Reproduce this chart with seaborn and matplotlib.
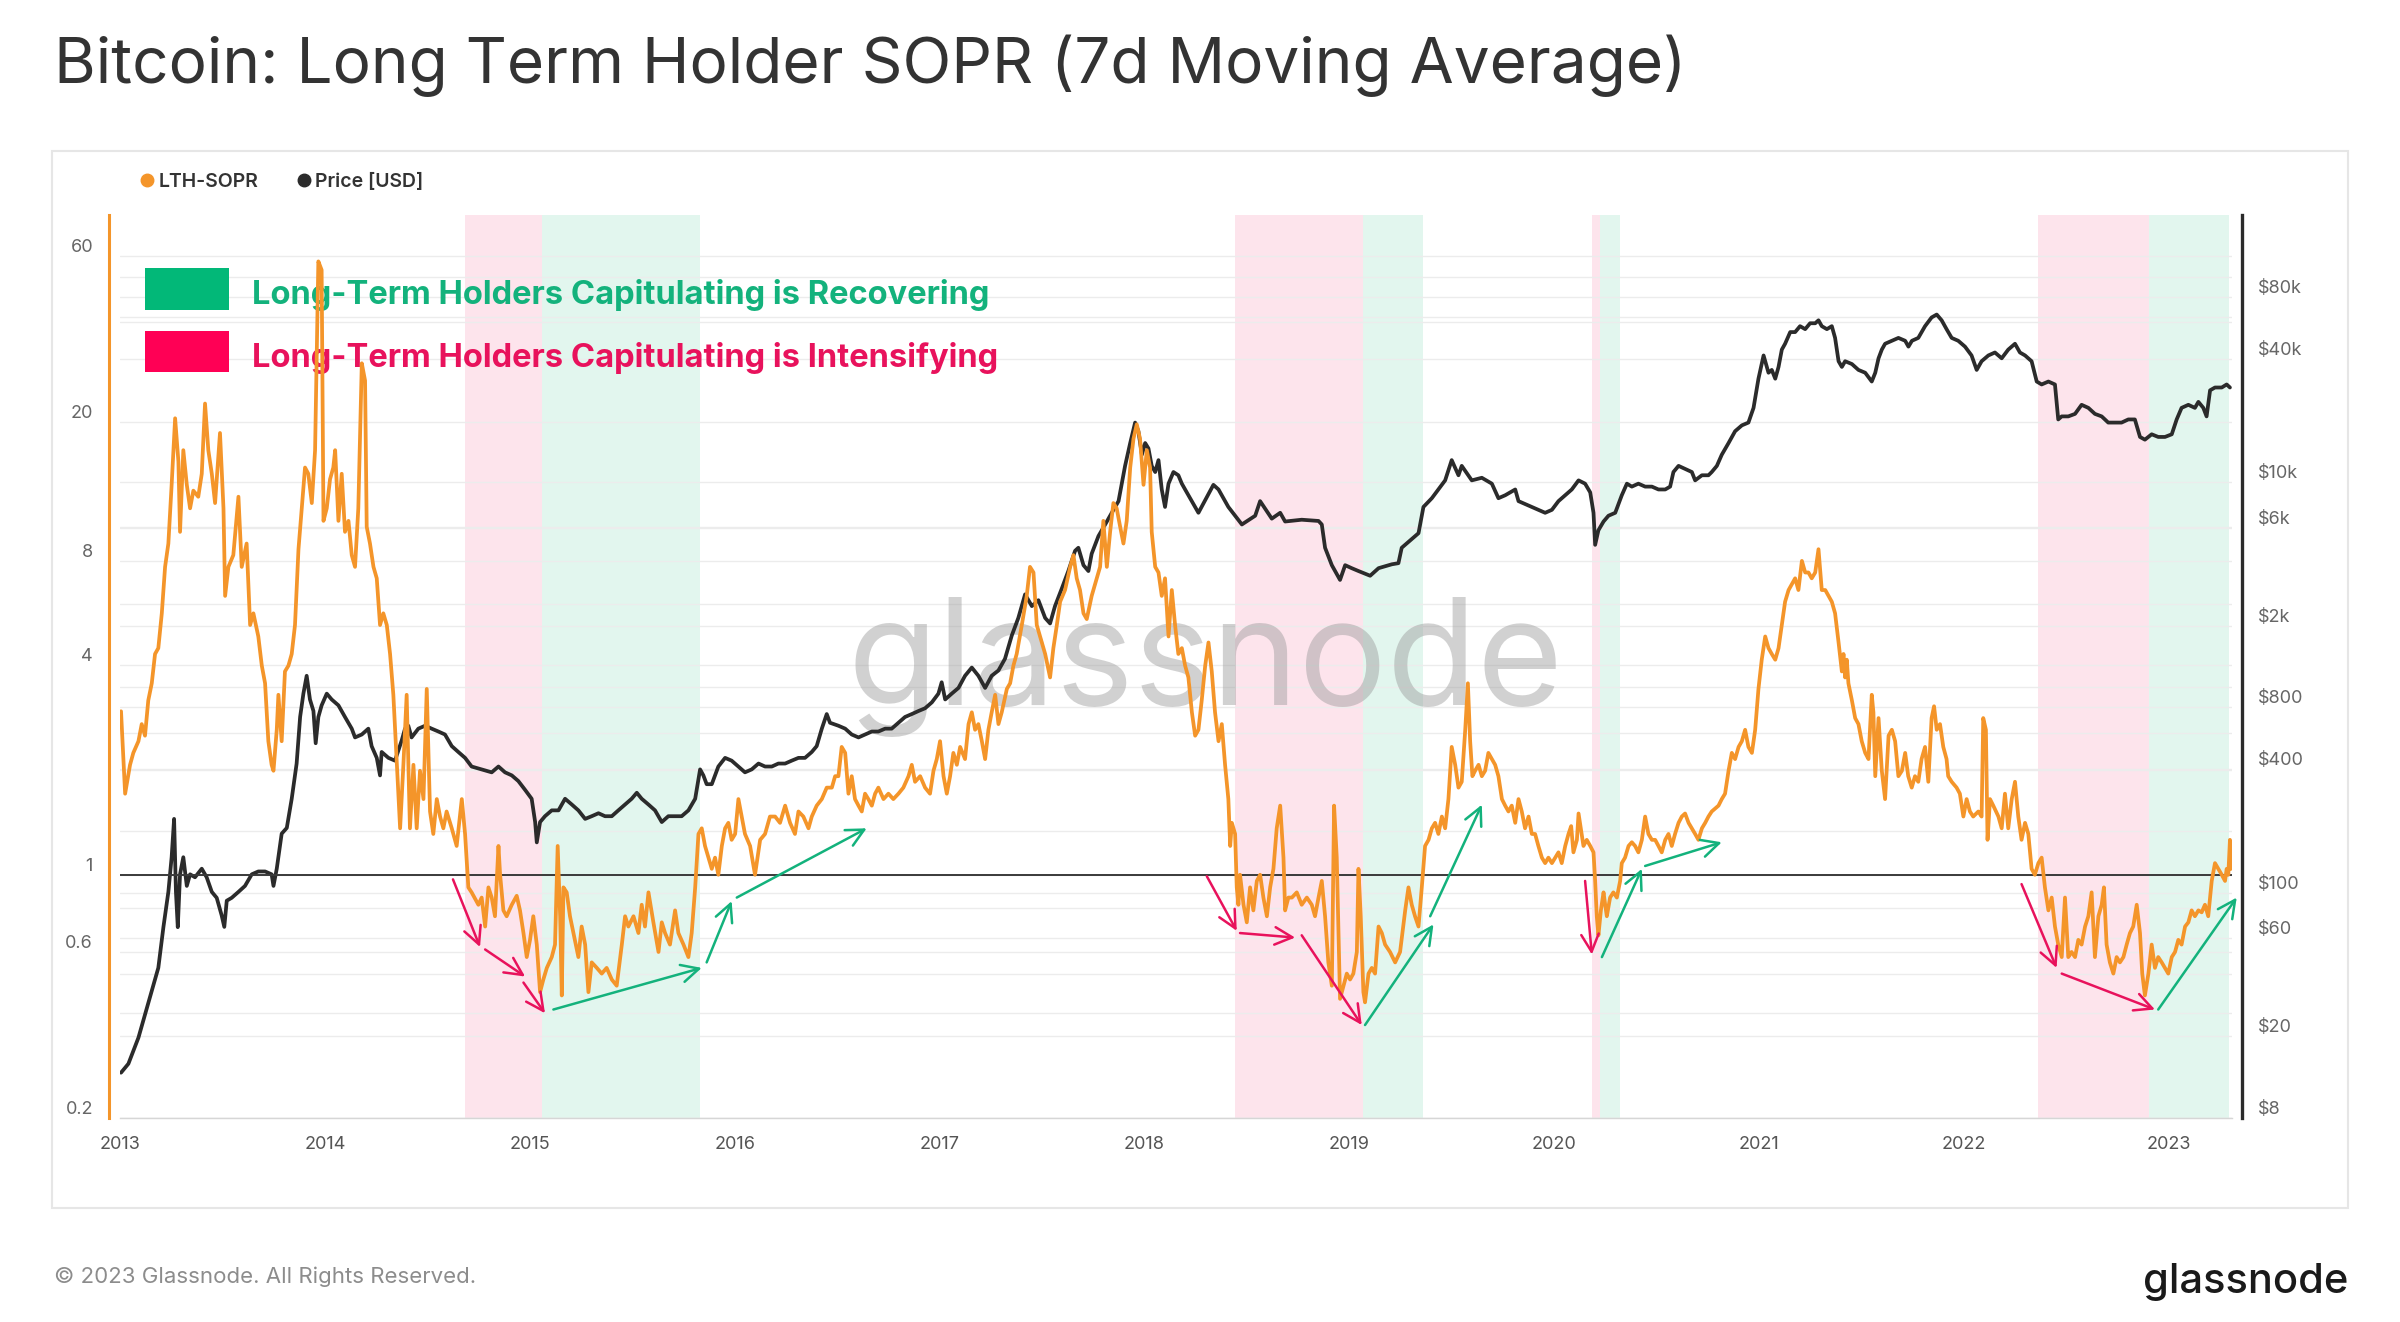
import numpy as np
import pandas as pd
import matplotlib
matplotlib.use("Agg")
import matplotlib.pyplot as plt
import matplotlib.dates as mdates
import matplotlib.transforms as mtrans
import seaborn as sns
from matplotlib.lines import Line2D
from matplotlib.patches import Rectangle

# ---------------- data (decimal year, value) ----------------
SOPR_2013_2014 = [
    (2013.005, 2.95), (2013.025, 1.71), (2013.049, 2.07), (2013.065, 2.24), (2013.090, 2.42),
    (2013.106, 2.71), (2013.122, 2.51), (2013.138, 3.17), (2013.155, 3.55), (2013.171, 4.31),
    (2013.187, 4.48), (2013.204, 5.64), (2013.220, 7.67), (2013.236, 8.95), (2013.252, 13.2),
    (2013.269, 20.5), (2013.285, 15.4), (2013.293, 9.67), (2013.309, 16.6), (2013.326, 13.2),
    (2013.342, 11.3), (2013.358, 12.7), (2013.382, 12.2), (2013.399, 14.2), (2013.415, 22.6),
    (2013.431, 16.6), (2013.448, 14.2), (2013.464, 11.7), (2013.488, 18.6), (2013.505, 11.3),
    (2013.513, 6.33), (2013.529, 7.67), (2013.553, 8.29), (2013.578, 12.2), (2013.594, 7.67),
    (2013.618, 8.95), (2013.635, 5.22), (2013.651, 5.64), (2013.675, 4.84), (2013.692, 3.99),
    (2013.708, 3.55), (2013.724, 2.42), (2013.740, 2.07), (2013.749, 1.99), (2013.765, 2.61),
    (2013.773, 3.29), (2013.789, 2.42), (2013.805, 3.84), (2013.822, 3.99), (2013.838, 4.31),
    (2013.854, 5.22), (2013.871, 8.62), (2013.887, 11.3), (2013.903, 14.8), (2013.919, 14.2),
    (2013.936, 11.7), (2013.952, 16.6), (2013.968, 57.9), (2013.984, 54.7), (2013.993, 10.4),
    (2014.009, 11.3), (2014.025, 13.7), (2014.041, 14.8), (2014.050, 16.6), (2014.066, 10.4),
    (2014.082, 14.2), (2014.098, 9.67), (2014.115, 10.4), (2014.131, 8.29), (2014.147, 7.67),
    (2014.163, 11.3), (2014.180, 29.5), (2014.196, 26.3), (2014.204, 10.0), (2014.220, 8.95),
    (2014.237, 7.67), (2014.253, 7.11), (2014.269, 5.22), (2014.285, 5.64), (2014.302, 5.22),
    (2014.318, 4.31), (2014.334, 3.29), (2014.350, 2.15), (2014.367, 1.36), (2014.383, 2.07),
    (2014.399, 3.29), (2014.415, 1.36), (2014.432, 2.07), (2014.448, 1.36), (2014.464, 1.99),
    (2014.481, 1.65), (2014.497, 3.42), (2014.513, 1.52), (2014.529, 1.31), (2014.546, 1.65),
    (2014.562, 1.47), (2014.578, 1.36), (2014.594, 1.52), (2014.619, 1.36), (2014.643, 1.21),
    (2014.668, 1.65), (2014.684, 1.31), (2014.700, 0.92), (2014.716, 0.89),
]
SOPR_2014_2016 = [
    (2014.749, 0.82), (2014.765, 0.86), (2014.782, 0.71), (2014.798, 0.92), (2014.814, 0.86),
    (2014.830, 0.76), (2014.847, 1.21), (2014.855, 1.00), (2014.871, 0.79), (2014.887, 0.76),
    (2014.912, 0.82), (2014.936, 0.87), (2014.952, 0.79), (2014.969, 0.68), (2014.985, 0.58),
    (2015.001, 0.65), (2015.017, 0.76), (2015.034, 0.63), (2015.050, 0.46), (2015.066, 0.50),
    (2015.083, 0.54), (2015.107, 0.58), (2015.123, 0.63), (2015.136, 1.21), (2015.148, 0.76),
    (2015.156, 0.45), (2015.164, 0.92), (2015.180, 0.89), (2015.196, 0.76), (2015.213, 0.68),
    (2015.237, 0.58), (2015.253, 0.71), (2015.270, 0.63), (2015.286, 0.46), (2015.302, 0.56),
    (2015.327, 0.54), (2015.351, 0.52), (2015.375, 0.54), (2015.400, 0.50), (2015.424, 0.48),
    (2015.449, 0.63), (2015.465, 0.76), (2015.481, 0.71), (2015.506, 0.76), (2015.530, 0.68),
    (2015.546, 0.82), (2015.562, 0.71), (2015.579, 0.89), (2015.603, 0.73), (2015.628, 0.60),
    (2015.644, 0.73), (2015.660, 0.68), (2015.684, 0.63), (2015.709, 0.79), (2015.725, 0.68),
    (2015.750, 0.63), (2015.774, 0.58), (2015.790, 0.68), (2015.807, 0.92), (2015.823, 1.31),
    (2015.839, 1.36), (2015.855, 1.21), (2015.872, 1.12), (2015.888, 1.04), (2015.904, 1.12),
    (2015.920, 1.00), (2015.937, 1.21), (2015.953, 1.36), (2015.969, 1.41), (2015.985, 1.26),
    (2016.002, 1.31), (2016.018, 1.65), (2016.034, 1.47), (2016.050, 1.31), (2016.075, 1.21),
    (2016.099, 1.00), (2016.124, 1.26), (2016.148, 1.31), (2016.172, 1.47), (2016.197, 1.47),
    (2016.221, 1.41), (2016.246, 1.58), (2016.270, 1.41), (2016.294, 1.31), (2016.311, 1.52),
    (2016.335, 1.47), (2016.360, 1.36), (2016.376, 1.47), (2016.400, 1.58), (2016.425, 1.65),
    (2016.449, 1.78),
]
SOPR_2016_2018 = [
    (2016.474, 1.78), (2016.490, 1.92), (2016.506, 1.92), (2016.522, 2.33), (2016.539, 2.24),
    (2016.555, 1.71), (2016.571, 1.92), (2016.587, 1.65), (2016.604, 1.58), (2016.620, 1.52),
    (2016.636, 1.71), (2016.652, 1.65), (2016.669, 1.58), (2016.685, 1.71), (2016.701, 1.78),
    (2016.726, 1.65), (2016.750, 1.71), (2016.774, 1.65), (2016.799, 1.71), (2016.823, 1.78),
    (2016.848, 1.92), (2016.864, 2.07), (2016.880, 1.85), (2016.905, 1.92), (2016.929, 1.78),
    (2016.953, 1.71), (2016.970, 1.99), (2016.986, 2.15), (2017.002, 2.42), (2017.019, 1.92),
    (2017.035, 1.71), (2017.051, 1.92), (2017.067, 2.24), (2017.084, 2.07), (2017.100, 2.33),
    (2017.124, 2.15), (2017.141, 2.71), (2017.157, 2.93), (2017.173, 2.61), (2017.189, 2.71),
    (2017.206, 2.42), (2017.222, 2.15), (2017.238, 2.61), (2017.254, 2.93), (2017.271, 3.29),
    (2017.287, 2.71), (2017.303, 2.93), (2017.328, 3.42), (2017.344, 3.55), (2017.360, 3.99),
    (2017.376, 4.31), (2017.401, 5.22), (2017.425, 6.33), (2017.441, 7.67), (2017.458, 7.39),
    (2017.474, 5.22), (2017.490, 4.84), (2017.515, 4.31), (2017.539, 3.69), (2017.555, 4.48),
    (2017.572, 5.22), (2017.588, 6.09), (2017.612, 6.58), (2017.637, 7.67), (2017.653, 8.29),
    (2017.669, 7.11), (2017.685, 6.58), (2017.702, 5.64), (2017.718, 5.43), (2017.742, 6.33),
    (2017.767, 7.11), (2017.783, 7.67), (2017.799, 10.4), (2017.816, 7.67), (2017.832, 9.67),
    (2017.848, 11.7), (2017.864, 11.3), (2017.881, 10.0), (2017.897, 8.95), (2017.913, 10.4),
    (2017.930, 14.8), (2017.946, 17.9), (2017.962, 19.7), (2017.978, 17.9), (2017.995, 13.2),
    (2018.011, 16.6), (2018.027, 14.8), (2018.035, 9.67), (2018.052, 7.67), (2018.068, 7.39),
    (2018.084, 6.33), (2018.100, 7.11), (2018.117, 4.84), (2018.133, 6.58), (2018.149, 5.22),
    (2018.165, 4.31), (2018.182, 4.48),
]
SOPR_2018_2020 = [
    (2018.198, 3.99), (2018.214, 3.69), (2018.231, 2.93), (2018.247, 2.51), (2018.263, 2.61),
    (2018.279, 3.17), (2018.296, 3.99), (2018.312, 4.65), (2018.328, 3.84), (2018.344, 2.93),
    (2018.361, 2.42), (2018.377, 2.71), (2018.393, 2.07), (2018.409, 1.65), (2018.418, 1.21),
    (2018.426, 1.41), (2018.442, 1.31), (2018.450, 0.92), (2018.458, 0.82), (2018.466, 1.00),
    (2018.483, 0.82), (2018.499, 0.73), (2018.515, 0.92), (2018.531, 0.79), (2018.548, 0.96),
    (2018.564, 1.00), (2018.580, 0.86), (2018.597, 0.76), (2018.613, 0.92), (2018.629, 1.04),
    (2018.645, 1.36), (2018.662, 1.58), (2018.678, 1.12), (2018.686, 0.79), (2018.702, 0.86),
    (2018.719, 0.86), (2018.743, 0.89), (2018.767, 0.82), (2018.792, 0.86), (2018.816, 0.82),
    (2018.832, 0.76), (2018.849, 0.86), (2018.865, 0.96), (2018.881, 0.76), (2018.897, 0.56),
    (2018.914, 0.48), (2018.925, 1.58), (2018.938, 1.12), (2018.954, 0.44), (2018.971, 0.48),
    (2018.987, 0.52), (2019.003, 0.50), (2019.019, 0.52), (2019.036, 0.60), (2019.044, 1.04),
    (2019.055, 0.76), (2019.068, 0.46), (2019.076, 0.43), (2019.093, 0.52), (2019.109, 0.54),
    (2019.125, 0.52), (2019.142, 0.71), (2019.158, 0.68), (2019.174, 0.63), (2019.198, 0.60),
    (2019.223, 0.56), (2019.247, 0.60), (2019.272, 0.79), (2019.288, 0.92), (2019.304, 0.82),
    (2019.320, 0.76), (2019.337, 0.71), (2019.353, 0.92), (2019.369, 1.21), (2019.386, 1.26),
    (2019.402, 1.36), (2019.418, 1.41), (2019.434, 1.31), (2019.451, 1.47), (2019.467, 1.36),
    (2019.483, 1.65), (2019.499, 2.33), (2019.516, 2.07), (2019.532, 1.78), (2019.548, 1.85),
    (2019.565, 2.61), (2019.578, 3.55), (2019.589, 2.42), (2019.600, 1.92), (2019.613, 1.99),
    (2019.630, 2.07), (2019.646, 1.92), (2019.662, 1.99), (2019.678, 2.24), (2019.695, 2.15),
    (2019.711, 2.07), (2019.727, 1.92), (2019.744, 1.65), (2019.760, 1.58), (2019.776, 1.52),
    (2019.792, 1.58), (2019.809, 1.41), (2019.825, 1.65), (2019.841, 1.52), (2019.857, 1.36),
    (2019.874, 1.47), (2019.890, 1.31), (2019.906, 1.31), (2019.922, 1.21), (2019.939, 1.12),
    (2019.955, 1.08),
]
SOPR_2020_2021 = [
    (2019.971, 1.12), (2019.988, 1.08), (2020.004, 1.12), (2020.020, 1.16), (2020.036, 1.08),
    (2020.053, 1.21), (2020.069, 1.31), (2020.082, 1.38), (2020.093, 1.16), (2020.110, 1.26),
    (2020.118, 1.50), (2020.129, 1.36), (2020.142, 1.21), (2020.158, 1.26), (2020.175, 1.21),
    (2020.191, 1.16), (2020.199, 0.96), (2020.207, 0.76), (2020.215, 0.67), (2020.227, 0.79),
    (2020.240, 0.89), (2020.248, 0.82), (2020.256, 0.76), (2020.272, 0.86), (2020.288, 0.89),
    (2020.305, 0.86), (2020.321, 0.96), (2020.329, 1.08), (2020.345, 1.12), (2020.362, 1.21),
    (2020.378, 1.24), (2020.394, 1.21), (2020.410, 1.16), (2020.427, 1.26), (2020.443, 1.47),
    (2020.459, 1.31), (2020.476, 1.26), (2020.492, 1.26), (2020.508, 1.21), (2020.524, 1.16),
    (2020.541, 1.26), (2020.557, 1.31), (2020.573, 1.21), (2020.589, 1.31), (2020.606, 1.41),
    (2020.622, 1.47), (2020.638, 1.50), (2020.655, 1.41), (2020.671, 1.36), (2020.687, 1.31),
    (2020.703, 1.26), (2020.720, 1.36), (2020.736, 1.41), (2020.752, 1.47), (2020.768, 1.52),
    (2020.785, 1.55), (2020.801, 1.58), (2020.817, 1.65), (2020.833, 1.71), (2020.850, 1.99),
    (2020.866, 2.24), (2020.882, 2.15), (2020.899, 2.33), (2020.915, 2.42), (2020.931, 2.61),
    (2020.947, 2.33), (2020.964, 2.24), (2020.980, 2.61), (2020.996, 3.42), (2021.012, 4.15),
    (2021.029, 4.84), (2021.045, 4.48), (2021.061, 4.31), (2021.078, 4.15), (2021.094, 4.48),
    (2021.110, 5.22), (2021.126, 6.09), (2021.143, 6.58), (2021.159, 6.84), (2021.175, 7.11),
    (2021.191, 6.58), (2021.208, 7.98), (2021.224, 7.39), (2021.240, 7.39), (2021.256, 7.11),
    (2021.273, 7.39), (2021.289, 8.62), (2021.305, 6.58), (2021.322, 6.58), (2021.338, 6.33),
    (2021.354, 6.09), (2021.370, 5.64), (2021.387, 4.65), (2021.403, 3.84), (2021.411, 4.31),
    (2021.419, 3.69), (2021.427, 4.15), (2021.435, 3.55), (2021.452, 3.17), (2021.468, 2.82),
    (2021.484, 2.71), (2021.500, 2.42), (2021.517, 2.24), (2021.533, 2.15), (2021.549, 3.29),
    (2021.557, 2.93), (2021.566, 1.92), (2021.582, 2.82), (2021.598, 1.99), (2021.614, 1.65),
    (2021.631, 2.51), (2021.647, 2.61), (2021.663, 2.42), (2021.679, 1.92), (2021.696, 1.99),
    (2021.712, 2.24),
]
SOPR_2021_2023 = [
    (2021.727, 1.92), (2021.744, 1.78), (2021.760, 1.92), (2021.776, 1.85), (2021.792, 2.15),
    (2021.809, 2.33), (2021.825, 1.85), (2021.841, 2.82), (2021.853, 3.05), (2021.866, 2.61),
    (2021.882, 2.71), (2021.898, 2.33), (2021.914, 2.15), (2021.922, 1.92), (2021.939, 1.85),
    (2021.963, 1.78), (2021.979, 1.71), (2021.996, 1.47), (2022.012, 1.65), (2022.028, 1.52),
    (2022.044, 1.47), (2022.069, 1.52), (2022.085, 1.47), (2022.093, 2.82), (2022.106, 2.61),
    (2022.114, 1.26), (2022.126, 1.65), (2022.142, 1.58), (2022.167, 1.47), (2022.183, 1.36),
    (2022.199, 1.71), (2022.215, 1.36), (2022.232, 1.65), (2022.248, 1.85), (2022.264, 1.47),
    (2022.280, 1.26), (2022.297, 1.41), (2022.313, 1.31), (2022.329, 1.04), (2022.345, 1.00),
    (2022.362, 1.08), (2022.378, 1.12), (2022.394, 0.92), (2022.411, 0.79), (2022.427, 0.86),
    (2022.443, 0.71), (2022.459, 0.63), (2022.476, 0.58), (2022.492, 0.86), (2022.508, 0.58),
    (2022.524, 0.60), (2022.541, 0.58), (2022.557, 0.65), (2022.573, 0.63), (2022.590, 0.71),
    (2022.606, 0.76), (2022.622, 0.89), (2022.638, 0.58), (2022.655, 0.76), (2022.671, 0.82),
    (2022.682, 0.92), (2022.695, 0.63), (2022.711, 0.56), (2022.728, 0.52), (2022.744, 0.58),
    (2022.760, 0.56), (2022.777, 0.58), (2022.793, 0.63), (2022.809, 0.68), (2022.825, 0.71),
    (2022.842, 0.82), (2022.858, 0.68), (2022.869, 0.52), (2022.882, 0.45), (2022.899, 0.52),
    (2022.915, 0.63), (2022.931, 0.54), (2022.947, 0.58), (2022.964, 0.56), (2022.980, 0.54),
    (2022.996, 0.52), (2023.013, 0.58), (2023.029, 0.60), (2023.045, 0.65), (2023.061, 0.63),
    (2023.078, 0.71), (2023.094, 0.73), (2023.110, 0.79), (2023.126, 0.76), (2023.143, 0.79),
    (2023.159, 0.78), (2023.175, 0.82), (2023.191, 0.76), (2023.208, 0.96), (2023.224, 1.08),
    (2023.240, 1.04), (2023.257, 1.00), (2023.273, 0.96), (2023.281, 1.04), (2023.289, 1.00),
    (2023.297, 1.26), (2023.302, 1.04),
]

PRICE_2013_2014 = [
    (2013.005, 13.3), (2013.041, 14.7), (2013.090, 19.7), (2013.122, 25.5), (2013.155, 33.2),
    (2013.187, 43.1), (2013.212, 68.2), (2013.236, 101), (2013.252, 149), (2013.264, 229),
    (2013.273, 101), (2013.282, 68), (2013.293, 123), (2013.309, 149), (2013.326, 108),
    (2013.342, 123), (2013.366, 119), (2013.399, 131), (2013.423, 119), (2013.448, 101),
    (2013.472, 94.5), (2013.496, 77.7), (2013.509, 68.2), (2013.521, 91.5), (2013.545, 94.5),
    (2013.578, 101), (2013.610, 108), (2013.643, 123), (2013.675, 127), (2013.708, 127),
    (2013.740, 123), (2013.749, 108), (2013.765, 131), (2013.789, 194), (2013.814, 207),
    (2013.838, 287), (2013.862, 426), (2013.879, 718), (2013.895, 933), (2013.911, 1140),
    (2013.927, 874), (2013.944, 768), (2013.955, 535), (2013.968, 718), (2013.984, 818),
    (2014.009, 933), (2014.033, 874), (2014.066, 818), (2014.098, 718), (2014.131, 630),
    (2014.147, 571), (2014.180, 590), (2014.212, 630), (2014.228, 518), (2014.253, 454),
    (2014.269, 373), (2014.277, 485), (2014.310, 454), (2014.342, 440), (2014.375, 553),
    (2014.391, 630), (2014.407, 651), (2014.423, 571), (2014.456, 630), (2014.489, 651),
    (2014.521, 630), (2014.554, 610), (2014.586, 590), (2014.619, 518), (2014.651, 485),
    (2014.684, 454), (2014.716, 412),
]
PRICE_2014_2016 = [
    (2014.765, 399), (2014.814, 386), (2014.847, 412), (2014.879, 386), (2014.912, 373),
    (2014.944, 350), (2014.977, 317), (2015.009, 287), (2015.026, 221), (2015.034, 176),
    (2015.050, 221), (2015.074, 236), (2015.107, 252), (2015.140, 252), (2015.172, 287),
    (2015.205, 269), (2015.237, 252), (2015.270, 229), (2015.302, 236), (2015.335, 244),
    (2015.367, 236), (2015.400, 236), (2015.432, 252), (2015.465, 269), (2015.497, 287),
    (2015.522, 307), (2015.546, 287), (2015.579, 269), (2015.611, 252), (2015.644, 221),
    (2015.676, 236), (2015.709, 236), (2015.741, 236), (2015.774, 252), (2015.807, 287),
    (2015.831, 399), (2015.847, 373), (2015.863, 338), (2015.888, 338), (2015.920, 412),
    (2015.953, 454), (2015.985, 440), (2016.018, 412), (2016.050, 386), (2016.083, 399),
    (2016.116, 426), (2016.148, 412), (2016.181, 412), (2016.213, 426), (2016.246, 426),
    (2016.278, 440), (2016.311, 454), (2016.343, 454), (2016.376, 485), (2016.400, 518),
    (2016.425, 630), (2016.449, 742), (2016.465, 673),
]
PRICE_2016_2018 = [
    (2016.506, 651), (2016.539, 630), (2016.571, 590), (2016.604, 571), (2016.636, 590),
    (2016.669, 610), (2016.701, 610), (2016.734, 630), (2016.766, 630), (2016.799, 673),
    (2016.831, 718), (2016.864, 742), (2016.897, 768), (2016.929, 792), (2016.962, 846),
    (2016.994, 933), (2017.010, 1060), (2017.027, 874), (2017.059, 933), (2017.092, 995),
    (2017.124, 1140), (2017.157, 1250), (2017.189, 1140), (2017.222, 995), (2017.254, 1140),
    (2017.287, 1210), (2017.319, 1380), (2017.352, 1790), (2017.384, 2180), (2017.417, 2840),
    (2017.450, 2490), (2017.482, 2660), (2017.515, 2180), (2017.539, 2050), (2017.563, 2490),
    (2017.596, 3030), (2017.628, 3690), (2017.661, 4630), (2017.677, 4790), (2017.702, 3940),
    (2017.726, 3690), (2017.742, 4480), (2017.775, 5460), (2017.808, 6220), (2017.840, 7090),
    (2017.873, 8080), (2017.905, 12000), (2017.930, 15500), (2017.954, 19500), (2017.970, 17700),
    (2017.987, 13600), (2018.003, 15500), (2018.019, 14600), (2018.035, 12000), (2018.052, 11200),
    (2018.068, 12800), (2018.084, 9210), (2018.100, 7570), (2018.117, 9830), (2018.141, 11200),
    (2018.165, 10800), (2018.182, 9830),
]
PRICE_2018_2020 = [
    (2018.198, 9210), (2018.263, 7090), (2018.336, 9700), (2018.361, 9210), (2018.409, 7570),
    (2018.475, 6220), (2018.540, 6860), (2018.564, 8080), (2018.621, 6640), (2018.662, 7090),
    (2018.686, 6430), (2018.767, 6560), (2018.849, 6470), (2018.865, 6220), (2018.881, 4790),
    (2018.914, 3940), (2018.954, 3340), (2018.979, 3940), (2019.011, 3810), (2019.044, 3690),
    (2019.101, 3500), (2019.142, 3810), (2019.207, 3980), (2019.239, 4030), (2019.255, 4790),
    (2019.337, 5640), (2019.361, 7570), (2019.402, 8350), (2019.467, 10200), (2019.499, 12800),
    (2019.532, 10800), (2019.548, 12000), (2019.597, 10200), (2019.646, 10500), (2019.695, 9830),
    (2019.727, 8350), (2019.760, 8630), (2019.809, 9210), (2019.825, 8080), (2019.890, 7570),
    (2019.955, 7090),
]
PRICE_2020_2021 = [
    (2019.988, 7330), (2020.020, 8080), (2020.053, 8630), (2020.085, 9210), (2020.118, 10200),
    (2020.150, 9830), (2020.175, 8910), (2020.191, 7090), (2020.199, 4950), (2020.215, 5830),
    (2020.240, 6430), (2020.264, 6860), (2020.297, 7090), (2020.329, 8630), (2020.354, 9830),
    (2020.378, 9510), (2020.410, 9830), (2020.443, 9510), (2020.476, 9510), (2020.508, 9210),
    (2020.541, 9210), (2020.565, 9510), (2020.581, 11200), (2020.606, 12000), (2020.638, 11600),
    (2020.671, 11200), (2020.687, 10200), (2020.720, 10800), (2020.752, 10800), (2020.768, 11200),
    (2020.793, 12000), (2020.817, 13600), (2020.850, 15500), (2020.882, 17700), (2020.915, 18900),
    (2020.947, 19500), (2020.972, 23000), (2020.996, 31900), (2021.021, 41400), (2021.045, 34100),
    (2021.061, 35200), (2021.078, 31900), (2021.094, 36400), (2021.110, 44200), (2021.126, 47200),
    (2021.151, 53800), (2021.175, 53800), (2021.199, 57500), (2021.224, 55600), (2021.248, 59400),
    (2021.273, 59400), (2021.289, 61400), (2021.305, 57500), (2021.330, 55600), (2021.354, 57500),
    (2021.370, 50400), (2021.387, 38800), (2021.403, 36400), (2021.419, 38800), (2021.452, 37600),
    (2021.484, 35200), (2021.517, 34100), (2021.549, 30900), (2021.566, 34100), (2021.582, 40100),
    (2021.598, 44200), (2021.614, 47200), (2021.647, 48800), (2021.679, 50400), (2021.712, 48800),
    (2021.728, 45700), (2021.745, 48800),
]
PRICE_2021_2023 = [
    (2021.776, 50400), (2021.809, 57500), (2021.841, 63400), (2021.866, 65500), (2021.890, 61400),
    (2021.914, 55600), (2021.939, 50400), (2021.971, 48800), (2022.004, 45700), (2022.036, 41400),
    (2022.061, 35200), (2022.085, 38800), (2022.118, 41400), (2022.150, 42800), (2022.183, 40100),
    (2022.215, 44200), (2022.248, 47200), (2022.272, 42800), (2022.297, 41400), (2022.329, 38800),
    (2022.354, 30900), (2022.378, 29900), (2022.411, 30900), (2022.443, 29900), (2022.459, 20200),
    (2022.476, 20900), (2022.508, 20900), (2022.541, 21500), (2022.573, 23800), (2022.606, 23000),
    (2022.638, 21500), (2022.671, 20900), (2022.703, 19500), (2022.736, 19500), (2022.768, 19500),
    (2022.801, 20200), (2022.833, 20200), (2022.858, 16600), (2022.882, 16100), (2022.915, 17100),
    (2022.947, 16600), (2022.980, 16600), (2023.013, 17100), (2023.037, 20200), (2023.061, 23000),
    (2023.094, 23800), (2023.126, 23000), (2023.143, 24600), (2023.167, 23000), (2023.183, 20900),
    (2023.200, 28000), (2023.224, 28900), (2023.257, 28900), (2023.281, 29900), (2023.297, 28900),
]

# shaded phases (start, end) in decimal years
PINK_SPANS = [(2014.684, 2015.058), (2018.442, 2019.068), (2020.183, 2020.223), (2022.362, 2022.904)]
GREEN_SPANS = [(2015.058, 2015.831), (2019.068, 2019.361), (2020.223, 2020.321), (2022.904, 2023.292)]

# annotation arrows ((t0, v0), (t1, v1)) on the SOPR scale
PINK_ARROWS = [
    ((2014.625, 0.97), (2014.757, 0.62)), ((2014.782, 0.61), (2014.977, 0.51)),
    ((2014.969, 0.49), (2015.074, 0.40)), ((2018.304, 0.99), (2018.450, 0.69)),
    ((2018.466, 0.68), (2018.735, 0.66)), ((2018.767, 0.67), (2019.060, 0.37)),
    ((2020.150, 0.96), (2020.183, 0.59)), ((2022.280, 0.94), (2022.451, 0.54)),
    ((2022.476, 0.52), (2022.931, 0.41)),
]
GREEN_ARROWS = [
    ((2015.115, 0.41), (2015.839, 0.54)), ((2015.863, 0.56), (2015.985, 0.84)),
    ((2016.010, 0.86), (2016.644, 1.36)), ((2019.076, 0.37), (2019.410, 0.72)),
    ((2019.394, 0.76), (2019.646, 1.59)), ((2020.232, 0.58), (2020.427, 1.04)),
    ((2020.443, 1.06), (2020.817, 1.24)), ((2022.947, 0.41), (2023.330, 0.86)),
]

SOPR_TICKS = [0.2, 0.6, 1, 4, 8, 20, 60]
SOPR_TICK_LABELS = ["0.2", "0.6", "1", "4", "8", "20", "60"]
SOPR_MINOR = [0.4, 0.8, 2, 6, 10, 40]
PRICE_TICKS = [8, 20, 60, 100, 400, 800, 2000, 6000, 10000, 40000, 80000]
PRICE_TICK_LABELS = ["$8", "$20", "$60", "$100", "$400", "$800", "$2k", "$6k", "$10k", "$40k", "$80k"]
PRICE_MINOR = [40, 200, 600, 1000, 60000, 100000]
YEARS = list(range(2013, 2024))

TITLE = "Bitcoin: Long Term Holder SOPR (7d Moving Average)"
LEGEND_GREEN = "Long-Term Holders Capitulating is Recovering"
LEGEND_PINK = "Long-Term Holders Capitulating is Intensifying"

# ---------------- styling ----------------
ORANGE = "#f4952a"
BLACK = "#2b2b2b"
GREEN = "#02b878"
GREEN_TXT = "#13b27c"
PINK = "#ff0055"
PINK_TXT = "#e8125c"
SHADE_PINK = "#fde4ec"
SHADE_GREEN = "#e2f6ee"
GRID = "#ececec"
TICK_TXT = "#666666"

sns.set_style("white")
plt.rcParams["font.family"] = ["Inter", "DejaVu Sans"]


def to_dt(years):
    years = np.atleast_1d(np.asarray(years, dtype=float))
    return pd.Timestamp("2013-01-01") + pd.to_timedelta((years - 2013.0) * 365.25, unit="D")


def to_num(year):
    return mdates.date2num(to_dt(year)[0])


def frame(pairs_list):
    t = [p[0] for pairs in pairs_list for p in pairs]
    v = [p[1] for pairs in pairs_list for p in pairs]
    return pd.DataFrame({"date": to_dt(t), "value": v})


sopr_df = frame([SOPR_2013_2014, SOPR_2014_2016, SOPR_2016_2018,
                 SOPR_2018_2020, SOPR_2020_2021, SOPR_2021_2023])
price_df = frame([PRICE_2013_2014, PRICE_2014_2016, PRICE_2016_2018,
                  PRICE_2018_2020, PRICE_2020_2021, PRICE_2021_2023])

W, H = 2400, 1322
fig = plt.figure(figsize=(W / 100, H / 100), dpi=100)
fig.patch.set_facecolor("white")

# plot area: x 120..2232 px, y 215..1118 px
ax = fig.add_axes([120 / W, 1 - 1118 / H, 2112 / W, 903 / H])
ax2 = ax.twinx()
ax2.set_zorder(1)
ax.set_zorder(2)
ax.patch.set_visible(False)
ax2.patch.set_visible(True)
ax2.patch.set_facecolor("white")

# ---- price axis (bottom layer) ----
for s, e in PINK_SPANS:
    ax2.axvspan(to_dt(s)[0], to_dt(e)[0], color=SHADE_PINK, lw=0, zorder=0)
for s, e in GREEN_SPANS:
    ax2.axvspan(to_dt(s)[0], to_dt(e)[0], color=SHADE_GREEN, lw=0, zorder=0)

ax2.set_yscale("log")
ax2.set_ylim(8, 2.0e5)
ax2.set_yticks(PRICE_TICKS)
ax2.set_yticklabels(PRICE_TICK_LABELS)
ax2.set_yticks(PRICE_MINOR, minor=True)
ax2.yaxis.set_minor_formatter(matplotlib.ticker.NullFormatter())
ax2.grid(True, which="both", axis="y", color=GRID, lw=1.0, zorder=0.5)
ax2.set_axisbelow(True)

ax.set_yscale("log")
ax.set_ylim(0.2, 78.7)

# SOPR grid lines drawn in the bottom layer so the lines sit on top
blend = mtrans.blended_transform_factory(ax2.transAxes, ax.transData)
for v in SOPR_TICKS + SOPR_MINOR:
    ax2.add_line(Line2D([0, 1], [v, v], transform=blend, color=GRID, lw=1.0, zorder=0.5))

ax2.text(0.514, 0.457, "glassnode", transform=ax2.transAxes, ha="center", va="baseline",
         fontsize=106, color="#9a9a9a", alpha=0.45, zorder=0.8)

sns.lineplot(data=price_df, x="date", y="value", ax=ax2, color=BLACK, lw=2.7,
             estimator=None, sort=False, zorder=2)

# ---- SOPR axis (top layer) ----
ax.axhline(1, color="#3a3a3a", lw=1.4, zorder=1.6)
sns.lineplot(data=sopr_df, x="date", y="value", ax=ax, color=ORANGE, lw=2.7,
             estimator=None, sort=False, zorder=2)

ax.set_yticks(SOPR_TICKS)
ax.set_yticklabels(SOPR_TICK_LABELS)
ax.yaxis.set_minor_locator(matplotlib.ticker.NullLocator())
ax.yaxis.set_minor_formatter(matplotlib.ticker.NullFormatter())
ax.set_xlim(to_dt(2013.0)[0], to_dt(2023.307)[0])
ax.set_xticks(to_dt(YEARS))
ax.set_xticklabels([str(y) for y in YEARS])

ax.set_xlabel("")
ax.set_ylabel("")
ax2.set_xlabel("")
ax2.set_ylabel("")

# spines
for sp in ["top", "bottom", "right"]:
    ax.spines[sp].set_visible(False)
ax.spines["left"].set_position(("outward", 7.9))
ax.spines["left"].set_color(ORANGE)
ax.spines["left"].set_linewidth(2.2)
for sp in ["top", "left"]:
    ax2.spines[sp].set_visible(False)
ax2.spines["bottom"].set_color("#d6d6d6")
ax2.spines["bottom"].set_linewidth(1.0)
ax2.spines["right"].set_position(("outward", 7.2))
ax2.spines["right"].set_color(BLACK)
ax2.spines["right"].set_linewidth(2.4)

ax.tick_params(axis="y", which="both", length=0, pad=11.5, labelsize=13, labelcolor=TICK_TXT)
ax2.tick_params(axis="y", which="both", length=0, pad=11.5, labelsize=13, labelcolor=TICK_TXT)
ax.tick_params(axis="x", length=10.8, width=1, color="#e2e2e2", pad=2, labelsize=13,
               labelcolor="#555555")
for lbl in ax.get_yticklabels() + ax2.get_yticklabels():
    lbl.set_verticalalignment("bottom")

# colour legend boxes and texts
ax.add_patch(Rectangle((0.0117, 0.8948), 0.0398, 0.0465, transform=ax.transAxes,
                       color=GREEN, lw=0, zorder=1.5))
ax.add_patch(Rectangle((0.0117, 0.8256), 0.0398, 0.0454, transform=ax.transAxes,
                       color=PINK, lw=0, zorder=1.5))
ax.text(0.0625, 0.9014, LEGEND_GREEN, transform=ax.transAxes, fontsize=23.5,
        fontweight="bold", color=GREEN_TXT, va="baseline", zorder=1.5)
ax.text(0.0625, 0.8317, LEGEND_PINK, transform=ax.transAxes, fontsize=23.5,
        fontweight="bold", color=PINK_TXT, va="baseline", zorder=1.5)

# arrows
for arrows, col in [(PINK_ARROWS, PINK_TXT), (GREEN_ARROWS, GREEN_TXT)]:
    for (t0, v0), (t1, v1) in arrows:
        ax.annotate("", xy=(to_num(t1), v1), xytext=(to_num(t0), v0),
                    arrowprops=dict(arrowstyle="->,head_length=0.7,head_width=0.35",
                                    color=col, lw=1.8, shrinkA=0, shrinkB=0,
                                    mutation_scale=18),
                    annotation_clip=False, zorder=3)

# top legend
handles = [Line2D([0], [0], marker="o", linestyle="none", markersize=9,
                  markerfacecolor=ORANGE, markeredgecolor=ORANGE),
           Line2D([0], [0], marker="o", linestyle="none", markersize=9,
                  markerfacecolor=BLACK, markeredgecolor=BLACK)]
leg = fig.legend(handles, ["LTH-SOPR", "Price [USD]"], loc="center left",
                 bbox_to_anchor=(141.6 / W, 1 - 182 / H), ncol=2, frameon=False,
                 fontsize=14, handlelength=0.6, handletextpad=0.3, columnspacing=2.0,
                 borderpad=0, borderaxespad=0)
for t in leg.get_texts():
    t.set_fontweight("semibold")
    t.set_color("#333333")

# title, footer, logo, outer frame
fig.text(54 / W, 1 - 83 / H, TITLE, fontsize=46, color="#333333", va="baseline")
fig.text(54 / W, 1 - 1283 / H, "\u00a9 2023 Glassnode. All Rights Reserved.",
         fontsize=16, color="#8c8c8c", va="baseline")
fig.text(2348 / W, 1 - 1293 / H, "glassnode", fontsize=30, fontweight="medium",
         color="#1a1a1a", ha="right", va="baseline")
fig.add_artist(Rectangle((52 / W, 1 - 1208 / H), 2296 / W, 1057 / H,
                         transform=fig.transFigure, fill=False, ec="#e6e6e6", lw=1.5))

fig.savefig("out.png", dpi=100, facecolor="white")
